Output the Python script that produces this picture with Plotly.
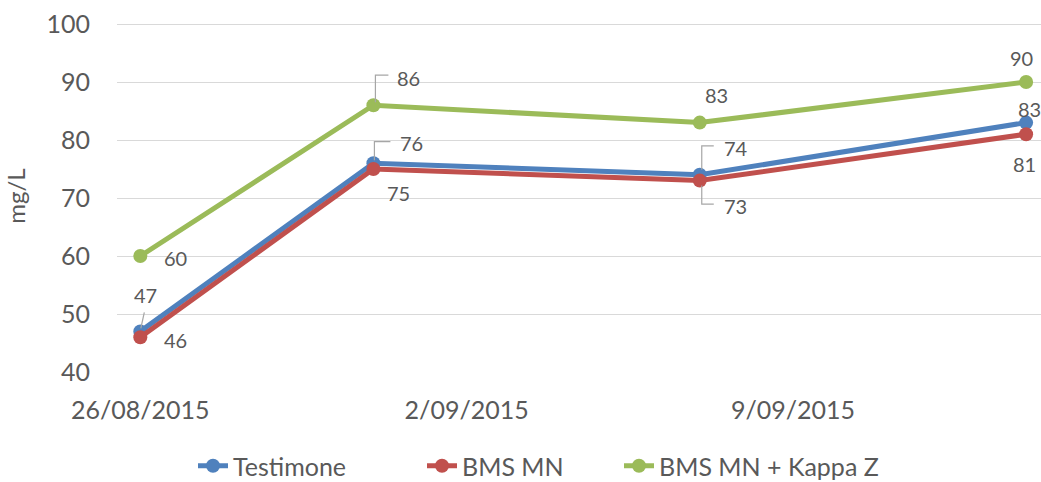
import plotly.graph_objects as go

# ---- data ----
dates = ["2015-08-26", "2015-08-31", "2015-09-07", "2015-09-14"]
testimone = [47, 76, 74, 83]
bms_mn = [46, 75, 73, 81]
bms_kappa = [60, 86, 83, 90]
series_names = ["Testimone", "BMS MN", "BMS MN + Kappa Z"]
tick_dates = ["2015-08-26", "2015-09-02", "2015-09-09"]
tick_labels = ["26/08/2015", "2/09/2015", "9/09/2015"]
y_ticks = [40, 50, 60, 70, 80, 90, 100]

# ---- style ----
colors = ["#4F81BD", "#C0504D", "#9BBB59"]
FONT = "Lato"
TXT = "#595959"
LEAD = "#A6A6A6"
W, H = 1041, 482
legend_ids = ["legend", "legend2", "legend3"]
legend_text_px = [233, 462, 659]   # where each legend entry's text begins

# label offsets (px, +y up) per series per point
label_off = {
    0: [(5, 36), (38, 20), (36, 27), (3.5, 14)],
    1: [(35, -3), (25, -24), (36, -25), (-1.5, -30)],
    2: [(35, -1.5), (35, 27), (16.5, 27.6), (-5, 24.5)],
}
# leader line paths (px relative to point, +y up)
leaders = {
    (0, 0): "M 0.5,3 L 4,19",
    (0, 1): "M 1,3 L 1,21.5 L 17,21.5",
    (0, 2): "M 2,5 L 2,29 L 14,29",
    (1, 2): "M 2,-5 L 2,-23.5 L 14,-23.5",
    (2, 1): "M 2,3 L 2,30 L 15,30",
}

all_series = [testimone, bms_mn, bms_kappa]

fig = go.Figure()
for name, vals, col, lg in zip(series_names, all_series, colors, legend_ids):
    fig.add_trace(go.Scatter(
        x=dates, y=vals, name=name, mode="lines+markers",
        line=dict(color=col, width=5),
        marker=dict(color=col, size=14),
        cliponaxis=False, legend=lg,
    ))

annotations = []
shapes = []
for si, vals in enumerate(all_series):
    for pi, (d, v) in enumerate(zip(dates, vals)):
        dx, dy = label_off[si][pi]
        annotations.append(dict(
            x=d, y=v, xref="x", yref="y", text=str(v), showarrow=False,
            xshift=dx, yshift=dy, font=dict(family=FONT, size=20, color=TXT),
        ))
        if (si, pi) in leaders:
            shapes.append(dict(
                type="path", xref="x", yref="y",
                xsizemode="pixel", ysizemode="pixel",
                xanchor=d, yanchor=v, path=leaders[(si, pi)],
                line=dict(color=LEAD, width=1.2), layer="above",
            ))

legend_layout = {}
for lg, tx in zip(legend_ids, legend_text_px):
    legend_layout[lg] = dict(
        orientation="h", xref="container", yref="container",
        x=(tx - 40) / W, xanchor="left", y=1 - 466 / H, yanchor="middle",
        font=dict(family=FONT, size=25, color=TXT),
        bgcolor="rgba(0,0,0,0)",
    )

fig.update_layout(
    width=W, height=H,
    margin=dict(l=117, r=0, t=20, b=110),
    paper_bgcolor="white", plot_bgcolor="white",
    font=dict(family=FONT, color=TXT),
    showlegend=True,
    annotations=annotations,
    shapes=shapes,
    **legend_layout,
)
fig.update_xaxes(
    type="date",
    range=["2015-08-25 12:00", "2015-09-14 07:40"],
    tickvals=tick_dates, ticktext=tick_labels,
    showgrid=False, zeroline=False, showline=False, ticks="",
    tickfont=dict(family=FONT, size=25, color=TXT),
    ticklabelstandoff=21,
)
fig.update_yaxes(
    range=[40, 100.69],
    tickvals=y_ticks,
    showgrid=True, gridcolor="#D9D9D9", gridwidth=1.3,
    zeroline=False, showline=False, ticks="",
    tickfont=dict(family=FONT, size=25, color=TXT),
    ticklabelstandoff=26,
    title=dict(text="mg/L", font=dict(family=FONT, size=24, color=TXT), standoff=14),
)

fig.write_html("out.html", config={"displayModeBar": False},
               post_script="document.body.style.margin='0';")
